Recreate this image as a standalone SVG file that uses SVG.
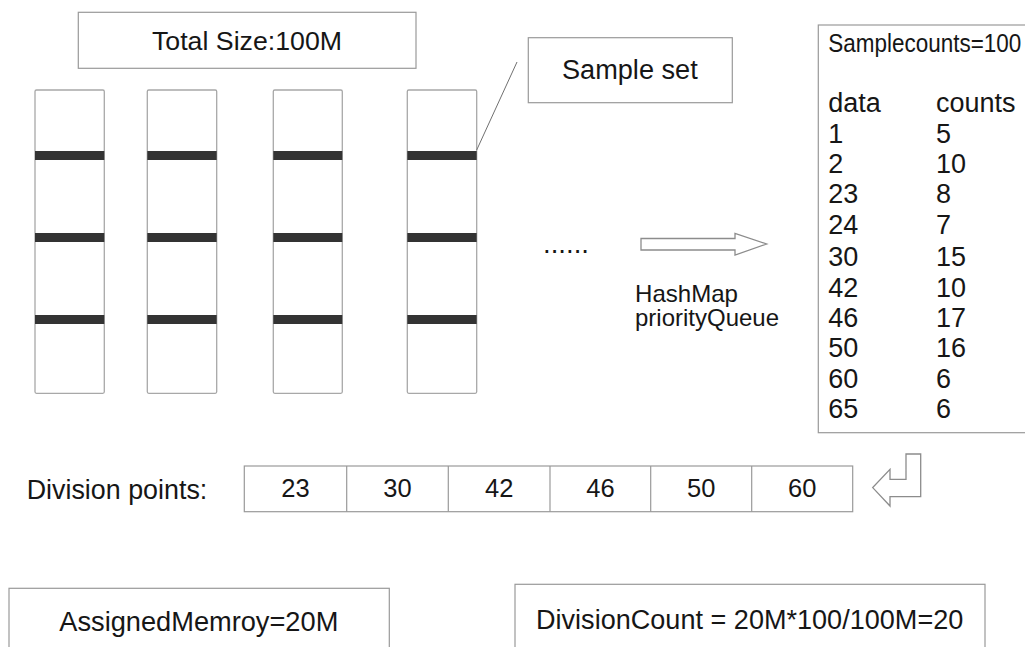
<svg xmlns="http://www.w3.org/2000/svg" width="1025" height="647" viewBox="0 0 1025 647">
<style>
  .box { fill: #ffffff; stroke: #9a9a9a; stroke-width: 1.2; }
  .col { fill: #ffffff; stroke: #a8a8a8; stroke-width: 1.3; }
  .bar { fill: #333333; }
  .t { font-family: "Liberation Sans", Arial, sans-serif; fill: #161616; }
  .hollow { fill: #ffffff; stroke: #8c8c8c; stroke-width: 1.3; stroke-linejoin: miter; }
  .lead { stroke: #707070; stroke-width: 1; fill: none; }
</style>
<rect width="1025" height="647" fill="#ffffff"/>

<g id="total-size">
  <rect class="box" x="78.3" y="12.3" width="337.7" height="56"/>
  <text class="t" x="152" y="49.5" font-size="26.5" textLength="190" lengthAdjust="spacingAndGlyphs">Total Size:100M</text>
</g>

<g id="sample-set">
  <rect class="box" x="528.3" y="37.7" width="204" height="65"/>
  <text class="t" x="562" y="79.3" font-size="27" textLength="135.7" lengthAdjust="spacingAndGlyphs">Sample set</text>
</g>

<g id="column-1">
  <rect class="col" x="35" y="90" width="69.3" height="303.3" rx="1.5"/>
  <rect class="bar" x="35" y="151" width="69.3" height="9"/>
  <rect class="bar" x="35" y="233" width="69.3" height="9"/>
  <rect class="bar" x="35" y="315" width="69.3" height="9"/>
</g>
<g id="column-2">
  <rect class="col" x="147.3" y="90" width="69.4" height="303.3" rx="1.5"/>
  <rect class="bar" x="147.3" y="151" width="69.4" height="9"/>
  <rect class="bar" x="147.3" y="233" width="69.4" height="9"/>
  <rect class="bar" x="147.3" y="315" width="69.4" height="9"/>
</g>
<g id="column-3">
  <rect class="col" x="273.3" y="90" width="69" height="303.3" rx="1.5"/>
  <rect class="bar" x="273.3" y="151" width="69" height="9"/>
  <rect class="bar" x="273.3" y="233" width="69" height="9"/>
  <rect class="bar" x="273.3" y="315" width="69" height="9"/>
</g>
<g id="column-4">
  <rect class="col" x="407.3" y="90" width="69.4" height="303.3" rx="1.5"/>
  <rect class="bar" x="407.3" y="151" width="69.4" height="9"/>
  <rect class="bar" x="407.3" y="233" width="69.4" height="9"/>
  <rect class="bar" x="407.3" y="315" width="69.4" height="9"/>
</g>

<g id="ellipsis">
  <text class="t" x="543" y="253" font-size="27" textLength="46" lengthAdjust="spacingAndGlyphs">......</text>
</g>

<g id="hashmap-label">
  <text class="t" x="635" y="301.7" font-size="24" textLength="103" lengthAdjust="spacingAndGlyphs">HashMap</text>
  <text class="t" x="635" y="326" font-size="24" textLength="144" lengthAdjust="spacingAndGlyphs">priorityQueue</text>
</g>

<g id="sample-table">
  <rect class="box" x="818.3" y="25" width="220" height="407.7"/>
  <text class="t" x="828.3" y="51.7" font-size="25" textLength="193" lengthAdjust="spacingAndGlyphs">Samplecounts=100</text>
  <g class="t" font-size="27">
    <text x="828.3" y="111.7">data</text><text x="936" y="111.7">counts</text>
    <text x="828.3" y="142.7">1</text><text x="936" y="142.7">5</text>
    <text x="828.3" y="172.7">2</text><text x="936" y="172.7">10</text>
    <text x="828.3" y="203.3">23</text><text x="936" y="203.3">8</text>
    <text x="828.3" y="234.3">24</text><text x="936" y="234.3">7</text>
    <text x="828.3" y="266">30</text><text x="936" y="266">15</text>
    <text x="828.3" y="296.7">42</text><text x="936" y="296.7">10</text>
    <text x="828.3" y="327.3">46</text><text x="936" y="327.3">17</text>
    <text x="828.3" y="357.3">50</text><text x="936" y="357.3">16</text>
    <text x="828.3" y="388.3">60</text><text x="936" y="388.3">6</text>
    <text x="828.3" y="418.3">65</text><text x="936" y="418.3">6</text>
  </g>
</g>

<g id="division-points">
  <text class="t" x="26.7" y="499.3" font-size="27" textLength="180.6" lengthAdjust="spacingAndGlyphs">Division points:</text>
  <rect class="box" x="244.3" y="466" width="608.4" height="45.7"/>
  <g stroke="#9a9a9a" stroke-width="1.2">
    <line x1="346.7" y1="466" x2="346.7" y2="511.7"/>
    <line x1="448.3" y1="466" x2="448.3" y2="511.7"/>
    <line x1="550" y1="466" x2="550" y2="511.7"/>
    <line x1="650.7" y1="466" x2="650.7" y2="511.7"/>
    <line x1="751.7" y1="466" x2="751.7" y2="511.7"/>
  </g>
  <g class="t" font-size="25.5" text-anchor="middle">
    <text x="295.5" y="496.7">23</text>
    <text x="397.5" y="496.7">30</text>
    <text x="499.2" y="496.7">42</text>
    <text x="600.4" y="496.7">46</text>
    <text x="701.2" y="496.7">50</text>
    <text x="802.2" y="496.7">60</text>
  </g>
</g>

<g id="assigned-memory">
  <rect class="box" x="9" y="588.3" width="380.3" height="80"/>
  <text class="t" x="59.3" y="630.7" font-size="27" textLength="279" lengthAdjust="spacingAndGlyphs">AssignedMemroy=20M</text>
</g>

<g id="division-count">
  <rect class="box" x="515" y="584.3" width="470" height="80"/>
  <text class="t" x="536" y="629" font-size="27" textLength="427.3" lengthAdjust="spacingAndGlyphs">DivisionCount = 20M*100/100M=20</text>
</g>

<g id="connectors">
  <line class="lead" x1="517" y1="62" x2="476.7" y2="150"/>
  <polygon class="hollow" points="641,238.5 735,238.5 735,233.3 766.7,244 735,255 735,250 641,250"/>
  <polygon class="hollow" points="906,454 920.7,454 920.7,496.7 890,496.7 890,506 872.7,487.6 890,469.3 890,479.3 906,479.3"/>
</g>
</svg>
